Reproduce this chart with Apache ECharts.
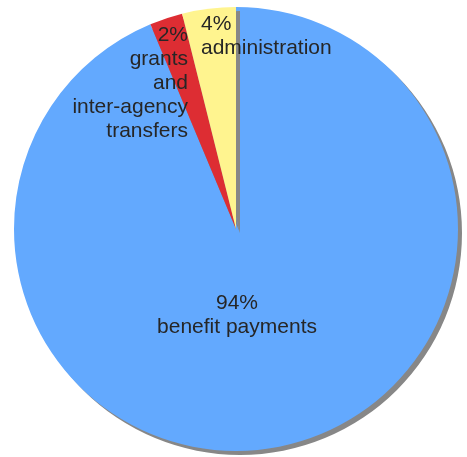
<!DOCTYPE html>
<html>
<head>
<meta charset="utf-8">
<script src="https://cdn.jsdelivr.net/npm/echarts@6/dist/echarts.min.js"></script>
<style>
html,body{margin:0;padding:0;background:#fff;}
#chart{width:467px;height:457px;}
</style>
</head>
<body>
<div id="chart"></div>
<script>
// Data (shares in percent; labels show rounded values)
const categories = ['benefit payments', 'grants\nand\ninter-agency\ntransfers', 'administration'];
const values = [93.7, 2.4, 3.9];
const colors = ['#63a9fe', '#dd2d33', '#fff48f'];

// label placement styles (per slice)
const labelPlacement = [
  { x: 237, y: 315, align: 'center' },
  { x: 188, y: 83, align: 'right' },
  { x: 201, y: 36, align: 'left' }
];

const chart = echarts.init(document.getElementById('chart'), null, { renderer: 'canvas' });
chart.setOption({
  animation: false,
  series: [{
    type: 'pie',
    center: [236, 229],
    radius: 222,
    startAngle: 90,
    clockwise: true,
    avoidLabelOverlap: false,
    silent: true,
    data: categories.map((c, i) => ({
      name: c,
      value: values[i],
      itemStyle: { color: colors[i] }
    })),
    itemStyle: {
      borderWidth: 0,
      shadowColor: '#878787',
      shadowBlur: 0,
      shadowOffsetX: 4,
      shadowOffsetY: 4
    },
    label: {
      show: true,
      position: 'inside',
      formatter: function (p) { return Math.round(p.value) + '%\n' + p.name; },
      fontFamily: 'Liberation Sans, Arial, sans-serif',
      fontSize: 21,
      lineHeight: 24,
      color: '#262626'
    },
    labelLine: { show: false },
    labelLayout: function (params) {
      const p = labelPlacement[params.dataIndex];
      return { x: p.x, y: p.y, align: p.align, verticalAlign: 'middle' };
    },
    emphasis: { disabled: true }
  }]
});
</script>
</body>
</html>
